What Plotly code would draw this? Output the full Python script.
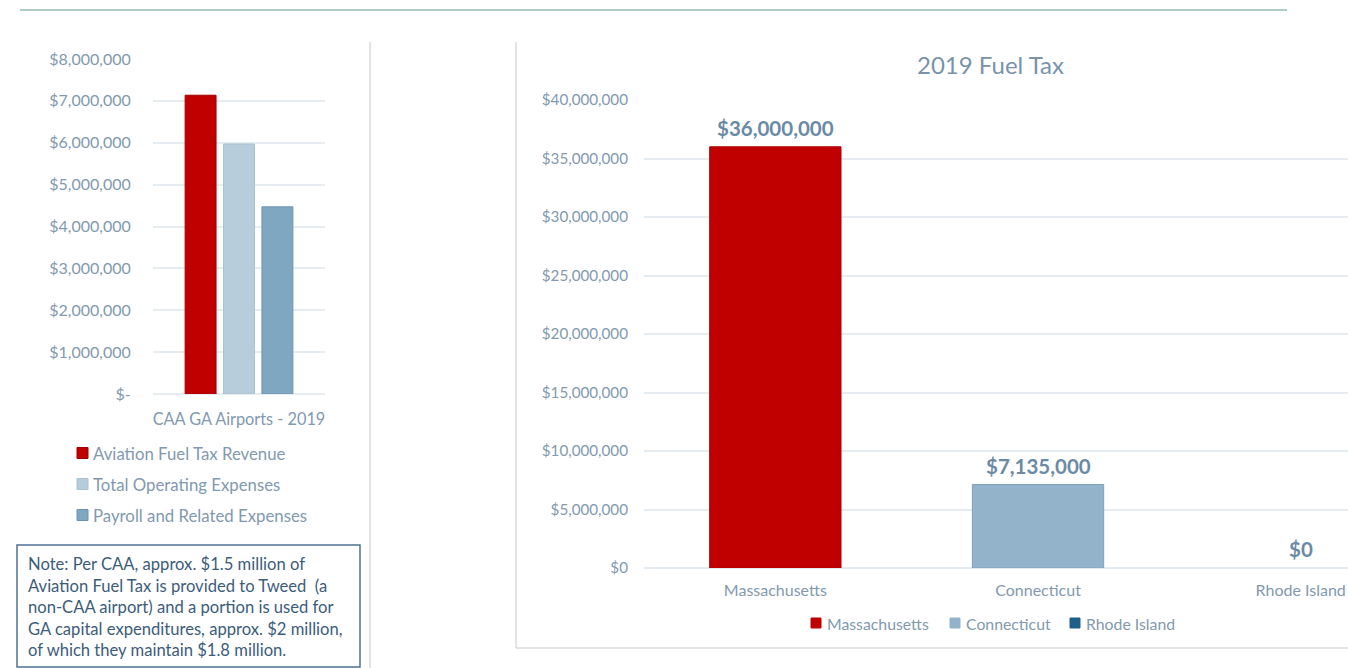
import plotly.graph_objects as go

W, H = 1348, 668

# Left chart: CAA general-aviation airports, 2019
left_category = ["CAA GA Airports - 2019"]
left_series = ["Aviation Fuel Tax Revenue", "Total Operating Expenses", "Payroll and Related Expenses"]
left_values = [7135000, 5970000, 4470000]
left_colors = ["#C00000", "#B8CDDB", "#80A7C2"]
left_lines = ["#A00000", "#A9C0D0", "#6D93AF"]
left_ticks = [0, 1e6, 2e6, 3e6, 4e6, 5e6, 6e6, 7e6, 8e6]
left_ticktext = ["$-", "$1,000,000", "$2,000,000", "$3,000,000", "$4,000,000",
                 "$5,000,000", "$6,000,000", "$7,000,000", "$8,000,000"]

# Right chart: 2019 fuel tax by state
states = ["Massachusetts", "Connecticut", "Rhode Island"]
state_values = [36000000, 7135000, 0]
state_colors = ["#C00000", "#93B3CB", "#1F5F8B"]
state_lines = ["#B00000", "#7FA2BC", "#1F5F8B"]
right_ticks = [0, 5e6, 10e6, 15e6, 20e6, 25e6, 30e6, 35e6, 40e6]
right_ticktext = ["$0", "$5,000,000", "$10,000,000", "$15,000,000", "$20,000,000",
                  "$25,000,000", "$30,000,000", "$35,000,000", "$40,000,000"]

note = ("Note: Per CAA, approx. $1.5 million of<br>"
        "Aviation Fuel Tax is provided to Tweed  (a<br>"
        "non-CAA airport) and a portion is used for<br>"
        "GA capital expenditures, approx. $2 million,<br>"
        "of which they maintain $1.8 million.")

FONT = "Lato"
AXIS_TXT = "#8299AF"
LABEL_TXT = "#6B8AA5"
GRID = "#E5ECF2"


def px(x):
    return x / W


def py(y):
    return 1 - y / H


fig = go.Figure()

for name, val, col, lc in zip(left_series, left_values, left_colors, left_lines):
    fig.add_trace(go.Bar(
        x=left_category, y=[val], name=name,
        marker=dict(color=col, line=dict(color=lc, width=1)),
        xaxis="x", yaxis="y", showlegend=False,
    ))

fig.add_trace(go.Bar(
    x=states, y=state_values, width=0.5,
    marker=dict(color=state_colors,
                line=dict(color=state_lines, width=[1 if v > 0 else 0 for v in state_values])),
    xaxis="x2", yaxis="y2", showlegend=False,
))

fig.update_layout(
    width=W, height=H,
    margin=dict(l=0, r=0, t=0, b=0, autoexpand=False),
    paper_bgcolor="white", plot_bgcolor="white",
    barmode="group", bargap=0.33, bargroupgap=0.195,
    font=dict(family=FONT, color=AXIS_TXT),
    xaxis=dict(domain=[px(153), px(325)], anchor="y", automargin=False,
               showline=False, showgrid=False, zeroline=False,
               ticks="outside", ticklen=10, tickcolor="rgba(0,0,0,0)",
               tickfont=dict(size=16.3, color=AXIS_TXT)),
    yaxis=dict(domain=[py(394), py(59)], anchor="x", range=[0, 8e6], automargin=False,
               tickvals=left_ticks, ticktext=left_ticktext,
               showgrid=True, gridcolor=GRID, gridwidth=2,
               zeroline=True, zerolinecolor=GRID, zerolinewidth=2,
               ticks="outside", ticklen=18, tickcolor="rgba(0,0,0,0)",
               tickfont=dict(size=16, color=AXIS_TXT)),
    xaxis2=dict(domain=[px(644), 1], anchor="y2", range=[-0.5, 2.18], automargin=False,
                showline=False, showgrid=False, zeroline=False,
                ticks="outside", ticklen=8, tickcolor="rgba(0,0,0,0)",
                tickfont=dict(size=16, color=AXIS_TXT)),
    yaxis2=dict(domain=[py(568), py(100)], anchor="x2", range=[0, 40e6], automargin=False,
                tickvals=right_ticks, ticktext=right_ticktext,
                showgrid=True, gridcolor=GRID, gridwidth=2,
                zeroline=True, zerolinecolor=GRID, zerolinewidth=2,
                ticks="outside", ticklen=12, tickcolor="rgba(0,0,0,0)",
                tickfont=dict(size=15.2, color=AXIS_TXT)),
)

shapes = [
    # top rule
    dict(type="line", xref="paper", yref="paper", x0=px(20), x1=px(1287), y0=py(10), y1=py(10),
         line=dict(color="#5E9E8A", width=1.2)),
    # separator between charts
    dict(type="line", xref="paper", yref="paper", x0=px(370), x1=px(370), y0=py(42), y1=py(668),
         line=dict(color="#C8C8C8", width=1)),
    # right chart frame
    dict(type="line", xref="paper", yref="paper", x0=px(516), x1=px(516), y0=py(42), y1=py(648),
         line=dict(color="#C8C8C8", width=1)),
    dict(type="line", xref="paper", yref="paper", x0=px(516), x1=1, y0=py(648), y1=py(648),
         line=dict(color="#C8C8C8", width=1)),
    # note box
    dict(type="rect", xref="paper", yref="paper", x0=px(17), x1=px(360), y0=py(667), y1=py(545),
         line=dict(color="#4F7192", width=1.5), fillcolor="white"),
]

annotations = [
    dict(text="2019 Fuel Tax", xref="paper", yref="paper", x=px(990), y=py(66),
         xanchor="center", yanchor="middle", showarrow=False,
         font=dict(family=FONT, size=24, color="#7893AA"), yshift=2),
    dict(text=note, xref="paper", yref="paper", x=px(26), y=py(607),
         xanchor="left", yanchor="middle", align="left", showarrow=False,
         font=dict(family=FONT, size=16.6, color="#3D5C7A")),
]

# value labels above each state's bar
for s, v in zip(states, state_values):
    annotations.append(dict(text=f"${v:,.0f}", xref="x2", yref="y2", x=s, y=v,
                            xanchor="center", yanchor="middle", yshift=19, showarrow=False,
                            font=dict(family=FONT, size=20.5, color=LABEL_TXT, weight="bold")))

# left legend (vertical)
for i, (name, col, lc) in enumerate(zip(left_series, left_colors, left_lines)):
    yc = 453 + 31 * i
    shapes.append(dict(type="rect", xref="paper", yref="paper",
                       x0=px(77), x1=px(88), y0=py(yc + 5.5), y1=py(yc - 5.5),
                       fillcolor=col, line=dict(color=lc, width=1)))
    annotations.append(dict(text=name, xref="paper", yref="paper", x=px(91), y=py(yc),
                            xanchor="left", yanchor="middle", showarrow=False,
                            font=dict(family=FONT, size=16.8, color=AXIS_TXT)))

# right legend (horizontal)
for x0, name, col in zip([811, 950, 1070], states, state_colors):
    yc = 623
    shapes.append(dict(type="rect", xref="paper", yref="paper",
                       x0=px(x0), x1=px(x0 + 10), y0=py(yc + 5), y1=py(yc - 5),
                       fillcolor=col, line=dict(color=col, width=1)))
    annotations.append(dict(text=name, xref="paper", yref="paper", x=px(x0 + 14), y=py(yc),
                            xanchor="left", yanchor="middle", showarrow=False,
                            font=dict(family=FONT, size=15.8, color=AXIS_TXT)))

fig.update_layout(shapes=shapes, annotations=annotations)

fig.write_html("out.html")
